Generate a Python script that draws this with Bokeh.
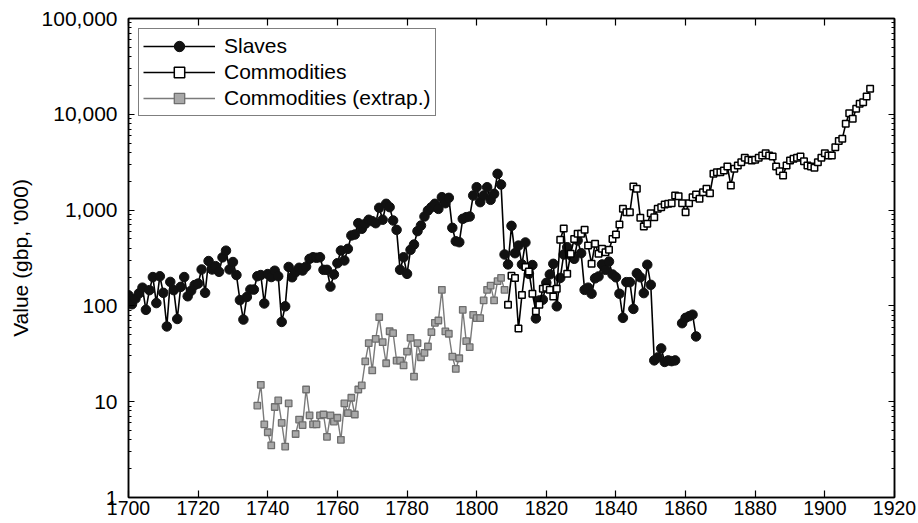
import numpy as np
from bokeh.plotting import figure
from bokeh.models import (LinearAxis, LogAxis, LogTicker, SingleIntervalTicker,
                          NumeralTickFormatter, Legend, LegendItem, CustomJSTickFormatter)
from bokeh.embed import file_html
from bokeh.resources import INLINE

nan = np.nan

# ---- data (values in gbp '000) ----
slave_years = list(range(1700, 1864))
slave_values = [
    129, 104, 119, 135, 155, 91, 146, 200, 107, 204,        # 1700-1709
    137, 61, 178, 146, 73, 158, 200, 126, 144, 165,         # 1710-1719
    171, 240, 137, 294, 240, 260, 227, 321, 377, 240,       # 1720-1729
    287, 210, 115, 72, 124, 148, 148, 204, 210, 106,        # 1730-1739
    215, 200, 233, 204, 68, 99, 255, 199, 225, 250,         # 1740-1749
    234, 257, 310, 322, 318, 322, 238, 238, 159, 213,       # 1750-1759
    279, 378, 298, 394, 543, 556, 730, 638, 720, 793,       # 1760-1769
    766, 730, 1057, 793, 1164, 1073, 779, 622, 238, 322,    # 1770-1779
    216, 385, 437, 603, 690, 857, 990, 1073, 1164, 1030,    # 1780-1789
    1364, 1180, 1343, 653, 473, 462, 811, 844, 857, 1420,   # 1790-1799
    1733, 1210, 1420, 1733, 1280, 1479, 2393, 1849, 344, 271,  # 1800-1809
    685, 355, 426, 271, 459, 216, 267, 74, 114, 116,        # 1810-1819
    174, 213, 275, 99, 196, 344, 410, 336, 310, 482,        # 1820-1829
    355, 147, 155, 134, 194, 203, 271, 238, 290, 213,       # 1830-1839
    199, 134, 75, 177, 177, 93, 219, 199, 136, 269,         # 1840-1849
    166, 27, 29, 36, 26, 27, 26.5, 27, nan, 66,             # 1850-1859
    75, 78, 81, 48,                                         # 1860-1863
]

commod_years = list(range(1809, 1914))
commod_values = [
    103,                                                    # 1809
    207, 196, 58, 130, 254, 229, 134, 88, 103, 151,         # 1810-1819
    155, 147, 125, 151, 490, 643, 216, 350, 500, 566,       # 1820-1829
    566, 622, 426, 275, 445, 350, 394, 363, 385, 500,       # 1830-1839
    556, 708, 1031, 950, 950, 1763, 1667, 832, 674, 720,    # 1840-1849
    929, 844, 1031, 1073, 1144, 1164, 1180, 1420, 1396, 1180,  # 1850-1859
    950, 1180, 1364, 1455, 1312, 1538, 1667, 1500, 2393, 2489,  # 1860-1869
    2489, 2589, 2851, 1807, 2700, 2924, 3162, 3515, 3350, 3296,  # 1870-1879
    3350, 3515, 3715, 3926, 3715, 3630, 2851, 2547, 2297, 2924,  # 1880-1889
    3296, 3430, 3515, 3630, 3240, 2924, 2851, 2763, 3162, 3515,  # 1890-1899
    3926, 3715, 3715, 4540, 5248, 5546, 7950, 10260, 8980, 11400,  # 1900-1909
    12880, 13370, 15350, 18450,                             # 1910-1913
]

extrap_years = list(range(1737, 1809))
extrap_values = [
    9.1, 15.0, 5.8, 4.8, 3.5, 8.8, 10.3, 6.0, 3.4, 9.6,     # 1737-1746
    nan,                                                    # 1747
    4.6, 6.5, 5.7, 13.4, 7.2, 5.8, 5.8, 7.2, 7.35, 4.3,     # 1748-1757
    7.2, 6.2, 6.8, 4.0, 9.6, 7.6, 11.0, 7.35, 13.4, 14.8,   # 1758-1767
    26.3, 40.8, 21.2, 45.3, 76.2, 41.8, 25.2, 54.4, 51.9, 26.9,  # 1768-1777
    26.9, 23.9, 33.4, 46.4, 18.3, 40.8, 29.1, 32.3, 37.7, 53.2,  # 1778-1787
    66.6, 70.4, 147, 54.1, 51.2, 29.6, 22.0, 28.4, 91.0, 42.8,   # 1788-1797
    37.1, 80.7, 74.5, 74.5, 114, 147, 163, 114, 181, 196,        # 1798-1807
    147,                                                    # 1808
]

series_labels = ["Slaves", "Commodities", "Commodities (extrap.)"]
x_ticks_interval = 20

FONT = "Liberation Sans"

p = figure(width=918, height=523, x_range=(1700, 1920), y_range=(1, 100000),
           y_axis_type="log", output_backend="svg", toolbar_location=None,
           min_border_left=128, min_border_right=24, min_border_top=18,
           min_border_bottom=26, background_fill_color="white",
           border_fill_color="white")

p.xgrid.visible = False
p.ygrid.visible = False
p.outline_line_color = "black"
p.outline_line_width = 1.5

# bottom axis
xa = p.xaxis[0]
xa.ticker = SingleIntervalTicker(interval=x_ticks_interval, num_minor_ticks=0)
xa.major_tick_in = 7
xa.major_tick_out = 0
xa.minor_tick_in = 0
xa.minor_tick_out = 0
xa.axis_line_width = 1.5
xa.major_tick_line_width = 1.2
xa.major_label_text_font = FONT
xa.major_label_text_font_size = "19.5px"
xa.major_label_text_color = "black"
xa.major_label_standoff = 3

# left axis
ya = p.yaxis[0]
ya.ticker = LogTicker(num_minor_ticks=10)
ya.formatter = NumeralTickFormatter(format="0,0")
ya.major_tick_in = 6
ya.major_tick_out = 0
ya.minor_tick_in = 3
ya.minor_tick_out = 0
ya.axis_line_width = 1.5
ya.major_tick_line_width = 1.2
ya.minor_tick_line_width = 1.0
ya.major_label_text_font = FONT
ya.major_label_text_font_size = "21px"
ya.major_label_text_color = "black"
ya.major_label_standoff = 11
ya.axis_label = "Value (gbp, '000)"
ya.axis_label_text_font = FONT
ya.axis_label_text_font_size = "21px"
ya.axis_label_text_font_style = "normal"
ya.axis_label_text_color = "black"
ya.axis_label_standoff = 7

# top and right axes (ticks only)
top = LinearAxis(ticker=SingleIntervalTicker(interval=x_ticks_interval, num_minor_ticks=0),
                 formatter=CustomJSTickFormatter(code="return ''"),
                 major_tick_in=7, major_tick_out=0, minor_tick_in=0, minor_tick_out=0,
                 major_label_text_font_size="1px", major_label_text_color=None,
                 major_label_standoff=0,
                 axis_line_width=1.5, major_tick_line_width=1.2)
p.add_layout(top, "above")
right = LogAxis(ticker=LogTicker(num_minor_ticks=10),
                formatter=CustomJSTickFormatter(code="return ''"),
                major_tick_in=6, major_tick_out=0, minor_tick_in=3, minor_tick_out=0,
                major_label_text_font_size="1px", major_label_text_color=None,
                major_label_standoff=0,
                axis_line_width=1.5, major_tick_line_width=1.2, minor_tick_line_width=1.0)
p.add_layout(right, "right")

sx = np.array(slave_years, dtype=float)
sy = np.array(slave_values, dtype=float)
cx = np.array(commod_years, dtype=float)
cy = np.array(commod_values, dtype=float)
ex = np.array(extrap_years, dtype=float)
ey = np.array(extrap_values, dtype=float)

s_line = p.line(sx, sy, line_color="black", line_width=1.6)
s_pts = p.scatter(sx, sy, marker="circle", size=9.5, fill_color="#111111",
                  line_color="#111111", line_width=1)
c_line = p.line(cx, cy, line_color="black", line_width=1.6)
c_pts = p.scatter(cx, cy, marker="square", size=6.5, fill_color="white",
                  line_color="black", line_width=1.5)
e_line = p.line(ex, ey, line_color="#7a7a7a", line_width=1.4)
e_pts = p.scatter(ex, ey, marker="square", size=6.5, fill_color="#a8a8a8",
                  line_color="#6e6e6e", line_width=1.3)

legend = Legend(items=[
    LegendItem(label=series_labels[0], renderers=[s_line, s_pts]),
    LegendItem(label=series_labels[1], renderers=[c_line, c_pts]),
    LegendItem(label=series_labels[2], renderers=[e_line, e_pts]),
], location="top_left")
legend.margin = 10
legend.padding = 4
legend.spacing = 0
legend.label_height = 26
legend.glyph_height = 26
legend.glyph_width = 72
legend.label_standoff = 9
legend.label_text_font = FONT
legend.label_text_font_size = "21px"
legend.label_text_color = "black"
legend.border_line_color = "black"
legend.border_line_width = 1.5
legend.background_fill_color = "white"
legend.background_fill_alpha = 1.0
p.add_layout(legend, "center")

open("out.html", "w").write(file_html(p, INLINE))
